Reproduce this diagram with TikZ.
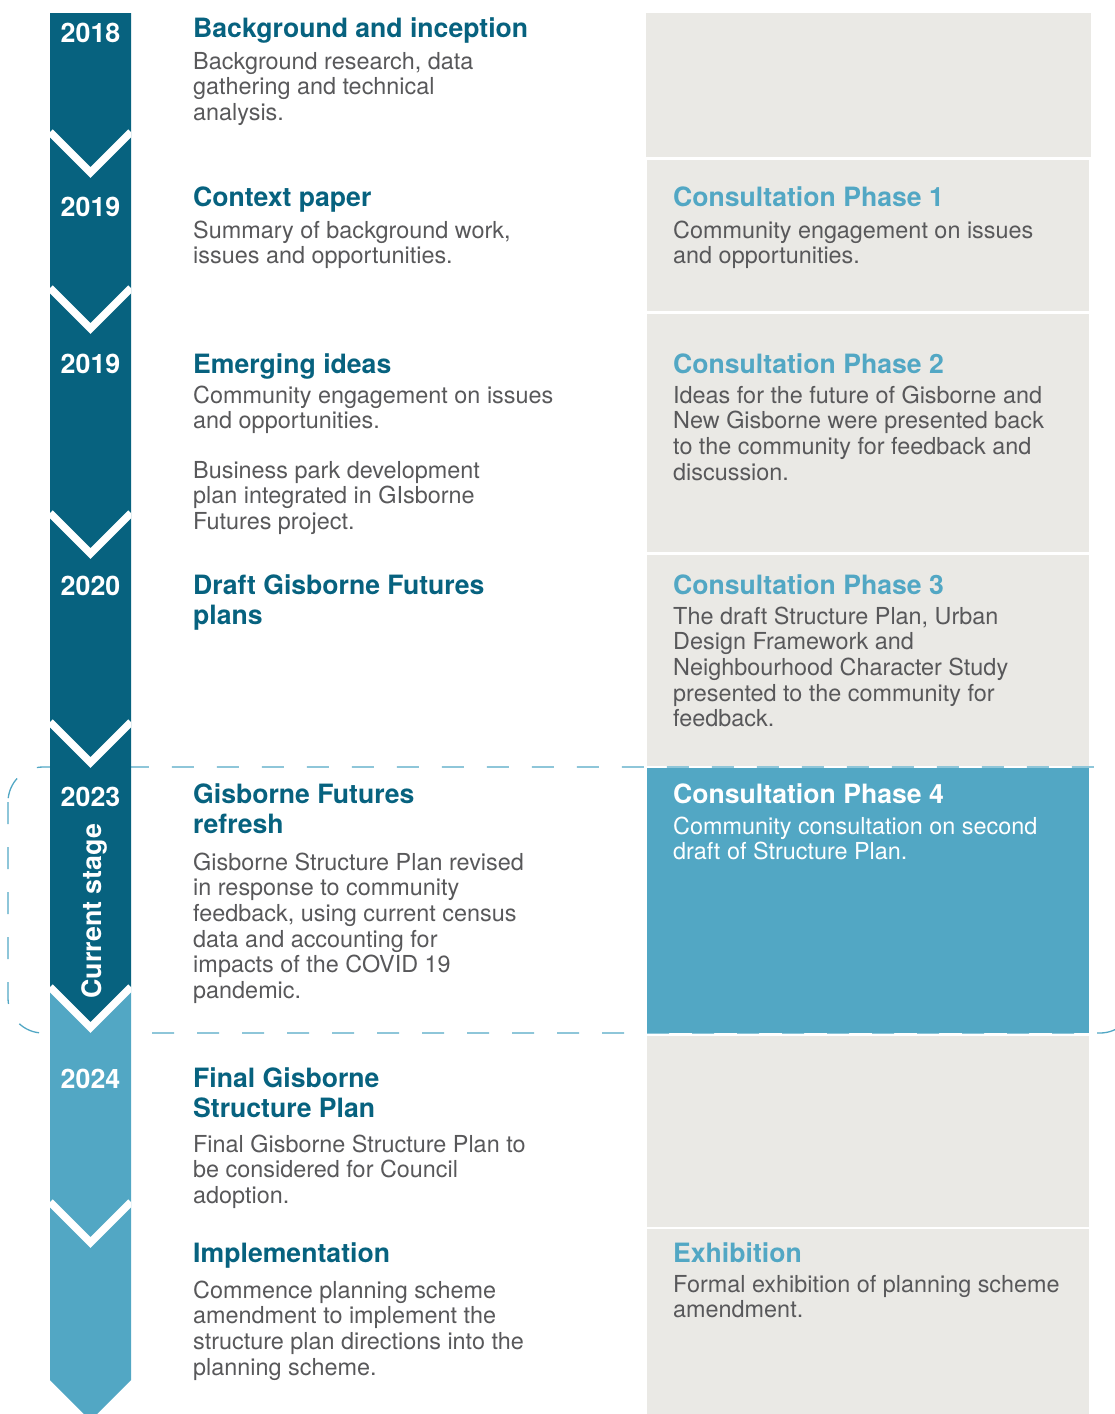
\documentclass[tikz,border=0pt]{standalone}
\usepackage{fontspec}
\setmainfont{TeX Gyre Heros}

\definecolor{gfDark}{HTML}{07627F}
\definecolor{gfLight}{HTML}{52A7C4}
\definecolor{gfPanel}{HTML}{EAE9E5}
\definecolor{gfText}{HTML}{58585A}

% one block of text whose reference point is the baseline of its first line
\newcommand{\gfblock}[1]{\parbox[t]{520pt}{\raggedright #1}}

\tikzset{
  yearlabel/.style={anchor=base, inner sep=0pt, text=white,
    font=\fontsize{26.8}{30}\selectfont\bfseries},
  ltitle/.style={anchor=base west, inner sep=0pt, text=gfDark,
    font=\fontsize{26.6}{30}\selectfont\bfseries},
  rtitle/.style={ltitle, text=gfLight},
  wtitle/.style={ltitle, text=white},
  bodytext/.style={anchor=base west, inner sep=0pt, text=gfText,
    font=\fontsize{23.4}{25.7}\selectfont},
  wbody/.style={bodytext, text=white},
  panel/.style={fill=gfPanel},
  notch/.style={draw=white, line width=7.5pt, miter limit=10},
}

\begin{document}
\begin{tikzpicture}[x=1pt, y=-1pt]
\useasboundingbox (0,0) rectangle (1115,1414);

% frame round the current stage
\draw[gfLight, line width=1.3pt, dash pattern=on 22pt off 23pt,
      rounded corners=35pt] (8,767) rectangle (1135,1033);

% right-hand column of panels
\fill[panel] (646,13)   rectangle (1091,157);
\fill[panel] (647,160)  rectangle (1089,311);
\fill[panel] (647,314)  rectangle (1089,552);
\fill[panel] (647,555)  rectangle (1089,766);
\fill[gfLight] (647,768) rectangle (1089,1033);
\fill[panel] (647,1036) rectangle (1089,1227);
\fill[panel] (647,1229) rectangle (1089,1414);

% timeline arrow: completed stages dark, later stages light
\fill[gfDark] (50,13) -- (131,13) -- (131,987) -- (90.5,1027.5) -- (50,987) -- cycle;
\fill[gfLight] (50,987) -- (90.5,1027.5) -- (131,987) -- (131,1380)
      -- (90.5,1420.5) -- (50,1380) -- cycle;

% white chevrons between stages
\begin{scope}
  \clip (50,0) rectangle (131,1414);
  \foreach \y in {132,288,513,722,987,1202}
    \draw[notch] (50,\y) -- (90.5,\y+40.5) -- (131,\y);
\end{scope}

% years
\node[yearlabel] (y2018) at (90.5,42)   {2018};
\node[yearlabel] (y2019a) at (90.5,216) {2019};
\node[yearlabel] (y2019b) at (90.5,373) {2019};
\node[yearlabel] (y2020) at (90.5,595)  {2020};
\node[yearlabel] (y2023) at (90.5,806)  {2023};
\node[yearlabel] (y2024) at (90.5,1088) {2024};
\node[yearlabel, rotate=90] (current) at (101,911) {Current stage};

% left column: project stages
\node[ltitle] (s1t) at (193,37) {Background and inception};
\node[bodytext] (s1b) at (193,69) {\gfblock{Background research, data\\gathering and technical\\analysis.}};

\node[ltitle] (s2t) at (193,206) {Context paper};
\node[bodytext] (s2b) at (193,238) {\gfblock{Summary of background work,\\issues and opportunities.}};

\node[ltitle] (s3t) at (193,373) {Emerging ideas};
\node[bodytext] (s3b) at (193,403) {\gfblock{Community engagement on issues\\and opportunities.}};
\node[bodytext] (s3c) at (193,478) {\gfblock{Business park development\\plan integrated in GIsborne\\Futures project.}};

\node[ltitle] (s4t) at (193,594) {\gfblock{Draft Gisborne Futures\\plans}};

\node[ltitle] (s5t) at (193,803) {\gfblock{Gisborne Futures\\refresh}};
\node[bodytext] (s5b) at (193,870) {\gfblock{Gisborne Structure Plan revised\\in response to community\\feedback, using current census\\data and accounting for\\impacts of the COVID 19\\pandemic.}};

\node[ltitle] (s6t) at (193,1087) {\gfblock{Final Gisborne\\Structure Plan}};
\node[bodytext] (s6b) at (193,1152) {\gfblock{Final Gisborne Structure Plan to\\be considered for Council\\adoption.}};

\node[ltitle] (s7t) at (193,1262) {Implementation};
\node[bodytext] (s7b) at (193,1298) {\gfblock{Commence planning scheme\\amendment to implement the\\structure plan directions into the\\planning scheme.}};

% right column: consultation
\node[rtitle] (c1t) at (673,206) {Consultation Phase 1};
\node[bodytext] (c1b) at (673,238) {\gfblock{Community engagement on issues\\and opportunities.}};

\node[rtitle] (c2t) at (673,373) {Consultation Phase 2};
\node[bodytext] (c2b) at (673,403) {\gfblock{Ideas for the future of Gisborne and\\New Gisborne were presented back\\to the community for feedback and\\discussion.}};

\node[rtitle] (c3t) at (673,594) {Consultation Phase 3};
\node[bodytext] (c3b) at (673,624) {\gfblock{The draft Structure Plan, Urban\\Design Framework and\\Neighbourhood Character Study\\presented to the community for\\feedback.}};

\node[wtitle] (c4t) at (673,803) {Consultation Phase 4};
\node[wbody] (c4b) at (673,834) {\gfblock{Community consultation on second\\draft of Structure Plan.}};

\node[rtitle] (c5t) at (673,1262) {Exhibition};
\node[bodytext] (c5b) at (673,1292) {\gfblock{Formal exhibition of planning scheme\\amendment.}};
\end{tikzpicture}
\end{document}
